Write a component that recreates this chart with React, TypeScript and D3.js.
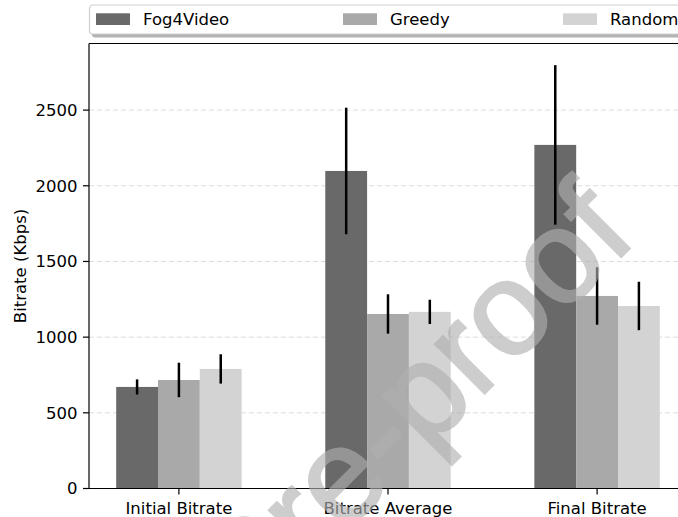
import React from "react";
import * as d3 from "d3";

const categories = ["Initial Bitrate", "Bitrate Average", "Final Bitrate"];
const seriesNames = ["Fog4Video", "Greedy", "Random"];
const fogValues = [671, 2098, 2270];
const fogErr = [50, 418, 527];
const greedyValues = [717, 1153, 1272];
const greedyErr = [114, 130, 190];
const randomValues = [790, 1167, 1206];
const randomErr = [97, 80, 160];
const yTicks = [0, 500, 1000, 1500, 2000, 2500];
const colors = ["#696969", "#a9a9a9", "#d3d3d3"];

const W = 678;
const H = 517;
const FONT = "DejaVu Sans, sans-serif";
const FS = 16.5;

export default function App() {
  const x = d3.scaleLinear().domain([-0.43, 2.43]).range([89, 687]);
  const y = d3.scaleLinear().domain([0, 2940]).range([488.5, 43.5]);
  const barW = 0.2;
  const series = [
    { name: seriesNames[0], vals: fogValues, errs: fogErr, color: colors[0], off: -0.2 },
    { name: seriesNames[1], vals: greedyValues, errs: greedyErr, color: colors[1], off: 0 },
    { name: seriesNames[2], vals: randomValues, errs: randomErr, color: colors[2], off: 0.2 },
  ];
  const legendX = [96, 343, 563];
  const top = y.range()[1];
  return (
    <svg width={W} height={H} style={{ position: "absolute", left: 0, top: 0 }} fontFamily={FONT}>
      <rect width={W} height={H} fill="#fff" />
      {/* grid */}
      {yTicks.slice(1).map((t) => (
        <line key={t} x1={89} x2={687} y1={y(t)} y2={y(t)} stroke="#dcdcdc" strokeWidth={1} strokeDasharray="5,3" />
      ))}
      {/* bars */}
      {series.map((s) =>
        s.vals.map((v, i) => (
          <rect
            key={s.name + i}
            x={x(i + s.off - barW / 2)}
            width={x(barW) - x(0)}
            y={y(v)}
            height={y(0) - y(v)}
            fill={s.color}
          />
        ))
      )}
      {/* error bars */}
      {series.map((s) =>
        s.vals.map((v, i) => (
          <line
            key={"e" + s.name + i}
            x1={x(i + s.off)}
            x2={x(i + s.off)}
            y1={y(v + s.errs[i])}
            y2={y(v - s.errs[i])}
            stroke="#000"
            strokeWidth={2.5}
          />
        ))
      )}
      {/* axes */}
      <line x1={89} x2={89} y1={top} y2={y(0)} stroke="#000" strokeWidth={1.2} />
      <line x1={89} x2={W} y1={y(0)} y2={y(0)} stroke="#000" strokeWidth={1.2} />
      <line x1={89} x2={W} y1={top} y2={top} stroke="#000" strokeWidth={1.2} />
      {yTicks.map((t) => (
        <g key={"yt" + t}>
          <line x1={83} x2={89} y1={y(t)} y2={y(t)} stroke="#000" strokeWidth={1.2} />
          <text x={77.5} y={y(t)} dy="0.36em" textAnchor="end" fontSize={FS} fill="#000">
            {t}
          </text>
        </g>
      ))}
      {categories.map((c, i) => (
        <g key={c}>
          <line x1={x(i)} x2={x(i)} y1={y(0)} y2={y(0) + 6} stroke="#000" strokeWidth={1.2} />
          <text x={x(i)} y={y(0) + 25} textAnchor="middle" fontSize={FS} fill="#000">
            {c}
          </text>
        </g>
      ))}
      <text
        transform={`translate(25.5,${(y(0) + top) / 2}) rotate(-90)`}
        textAnchor="middle"
        fontSize={FS}
        fill="#000"
      >
        Bitrate (Kbps)
      </text>
      {/* legend */}
      <rect x={92} y={8.5} width={620} height={29} rx={3} fill="#999" opacity={0.75} />
      <rect x={89.5} y={5} width={620} height={29} rx={3} fill="#fff" stroke="#cfcfcf" strokeWidth={1.2} />
      {series.map((s, i) => (
        <g key={"lg" + s.name}>
          <rect x={legendX[i]} y={13.3} width={34} height={11.7} fill={s.color} />
          <text x={legendX[i] + 47} y={19.5} dy="0.36em" fontSize={FS} fill="#000">
            {s.name}
          </text>
        </g>
      ))}
      {/* watermark */}
      <g opacity={0.63}>
        <text
          transform="translate(639,239) rotate(-45)"
          textAnchor="end"
          fontSize={132}
          fontFamily="Liberation Sans, Arial, sans-serif"
          fill="rgb(176,176,176)"
          stroke="rgb(176,176,176)"
          strokeWidth={2.5}
        >
          Journal Pre-proof
        </text>
      </g>
    </svg>
  );
}
